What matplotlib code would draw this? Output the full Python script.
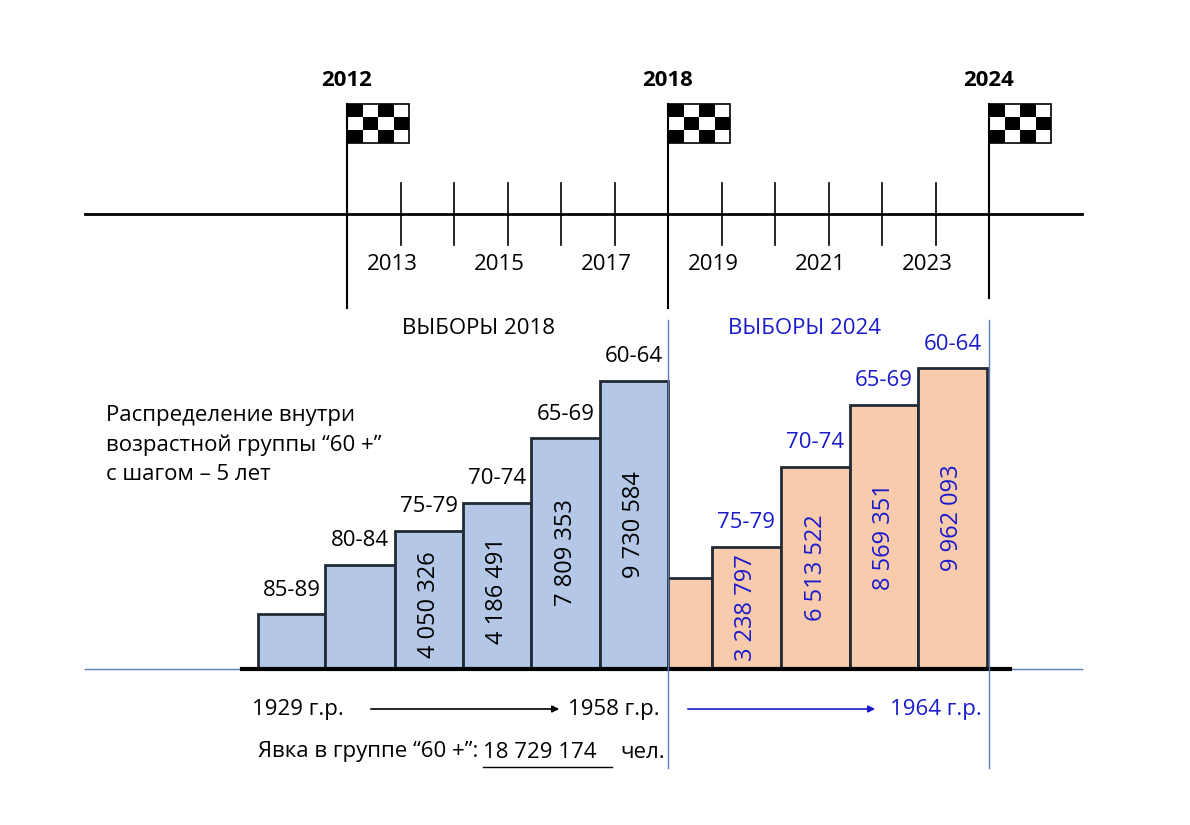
import matplotlib
matplotlib.use("Agg")
import matplotlib.pyplot as plt
from matplotlib.patches import Rectangle

years = list(range(2012, 2025))
flag_years = [2012, 2018, 2024]
blue_labels = ["85-89", "80-84", "75-79", "70-74", "65-69", "60-64"]
blue_heights = [54, 103, 137, 165, 230, 287]
blue_values = ["", "", "4 050 326", "4 186 491", "7 809 353", "9 730 584"]
orange_labels = ["", "75-79", "70-74", "65-69", "60-64"]
orange_heights = [90, 121, 201, 263, 300]
orange_values = ["", "3 238 797", "6 513 522", "8 569 351", "9 962 093"]

BLUE_T = "#1a1acc"
fig = plt.figure(figsize=(11.9, 8.25), dpi=100)
ax = fig.add_axes([0, 0, 1, 1])
ax.set_xlim(0, 1190); ax.set_ylim(825, 0); ax.axis("off")
F = "Open Sans"
FS = 16

def yx(y):
    return 347 + (y - 2012) * 53.5

# timeline
ax.plot([85, 1082], [214, 214], color="black", lw=2)
for y in years:
    x = yx(y)
    if y in flag_years:
        bot = 298 if y == 2024 else 308
        ax.plot([x, x], [104, bot], color="black", lw=1.5)
        w, h = 15.5, 13
        for r in range(3):
            for c in range(4):
                col = "black" if (r + c) % 2 == 0 else "white"
                ax.add_patch(Rectangle((x + c * w, 104 + r * h), w, h, facecolor=col, edgecolor="none"))
        ax.add_patch(Rectangle((x, 104), 4 * w, 3 * h, facecolor="none", edgecolor="black", lw=1.2))
        ax.text(x, 80, str(y), ha="center", va="center", fontsize=FS, fontweight="bold", family=F)
    else:
        ax.plot([x, x], [183, 245], color="black", lw=1.2)
        if y % 2 == 1:
            ax.text(x - 8, 265, str(y), ha="center", va="center", fontsize=FS, family=F)

ax.text(478, 328, "ВЫБОРЫ 2018", ha="center", va="center", fontsize=FS, family=F)
ax.text(805, 328, "ВЫБОРЫ 2024", ha="center", va="center", fontsize=FS, family=F, color=BLUE_T)
ax.text(106, 445, "Распределение внутри\nвозрастной группы “60 +”\nс шагом – 5 лет", ha="left",
        va="center", fontsize=FS, family=F, linespacing=1.5)

base = 668
bx = 258
bw = [67, 70, 68, 68, 69, 68]
for lab, h, v, w in zip(blue_labels, blue_heights, blue_values, bw):
    ax.add_patch(Rectangle((bx, base - h), w, h, facecolor="#b4c7e7", edgecolor="#222a35", lw=2))
    ax.text(bx + w / 2, base - h - 24, lab, ha="center", va="center", fontsize=FS, family=F)
    if v:
        ax.text(bx + w / 2, base - h / 2 + (0 if h > 200 else 5), v, ha="center", va="center",
                rotation=90, fontsize=FS + 1, family=F)
    bx += w
ow = [44, 69, 69, 68, 69]
for lab, h, v, w in zip(orange_labels, orange_heights, orange_values, ow):
    ax.add_patch(Rectangle((bx, base - h), w, h, facecolor="#f8cbad", edgecolor="#222a35", lw=2))
    if lab:
        ax.text(bx + w / 2, base - h - 24, lab, ha="center", va="center", fontsize=FS, family=F, color=BLUE_T)
    if v:
        yc = base - h / 2 if h > 150 else base - 60
        ax.text(bx + w / 2, yc, v, ha="center", va="center", rotation=90, fontsize=FS + 1, family=F, color=BLUE_T)
    bx += w

ax.plot([85, 1082], [669, 669], color="#5b7fb5", lw=1)
ax.plot([242, 1010], [669, 669], color="black", lw=3)
for x in [668, 989]:
    ax.plot([x, x], [320, 768], color="#5b7fb5", lw=1)

ax.text(298, 710, "1929 г.р.", ha="center", va="center", fontsize=FS, family=F)
ax.annotate("", xy=(562, 709), xytext=(368, 709), arrowprops=dict(arrowstyle="-|>", color="black", lw=1.2))
ax.text(614, 710, "1958 г.р.", ha="center", va="center", fontsize=FS, family=F)
ax.annotate("", xy=(878, 709), xytext=(685, 709), arrowprops=dict(arrowstyle="-|>", color=BLUE_T, lw=1.2))
ax.text(936, 710, "1964 г.р.", ha="center", va="center", fontsize=FS, family=F, color=BLUE_T)
ax.text(478, 752, "Явка в группе “60 +”:", ha="right", va="center", fontsize=FS, family=F)
ax.text(483, 752, "18 729 174", ha="left", va="center", fontsize=FS, family=F)
ax.plot([483, 612], [767, 767], color="black", lw=1)
ax.text(620, 752, "чел.", ha="left", va="center", fontsize=FS, family=F)
fig.savefig("out.png", dpi=100)
